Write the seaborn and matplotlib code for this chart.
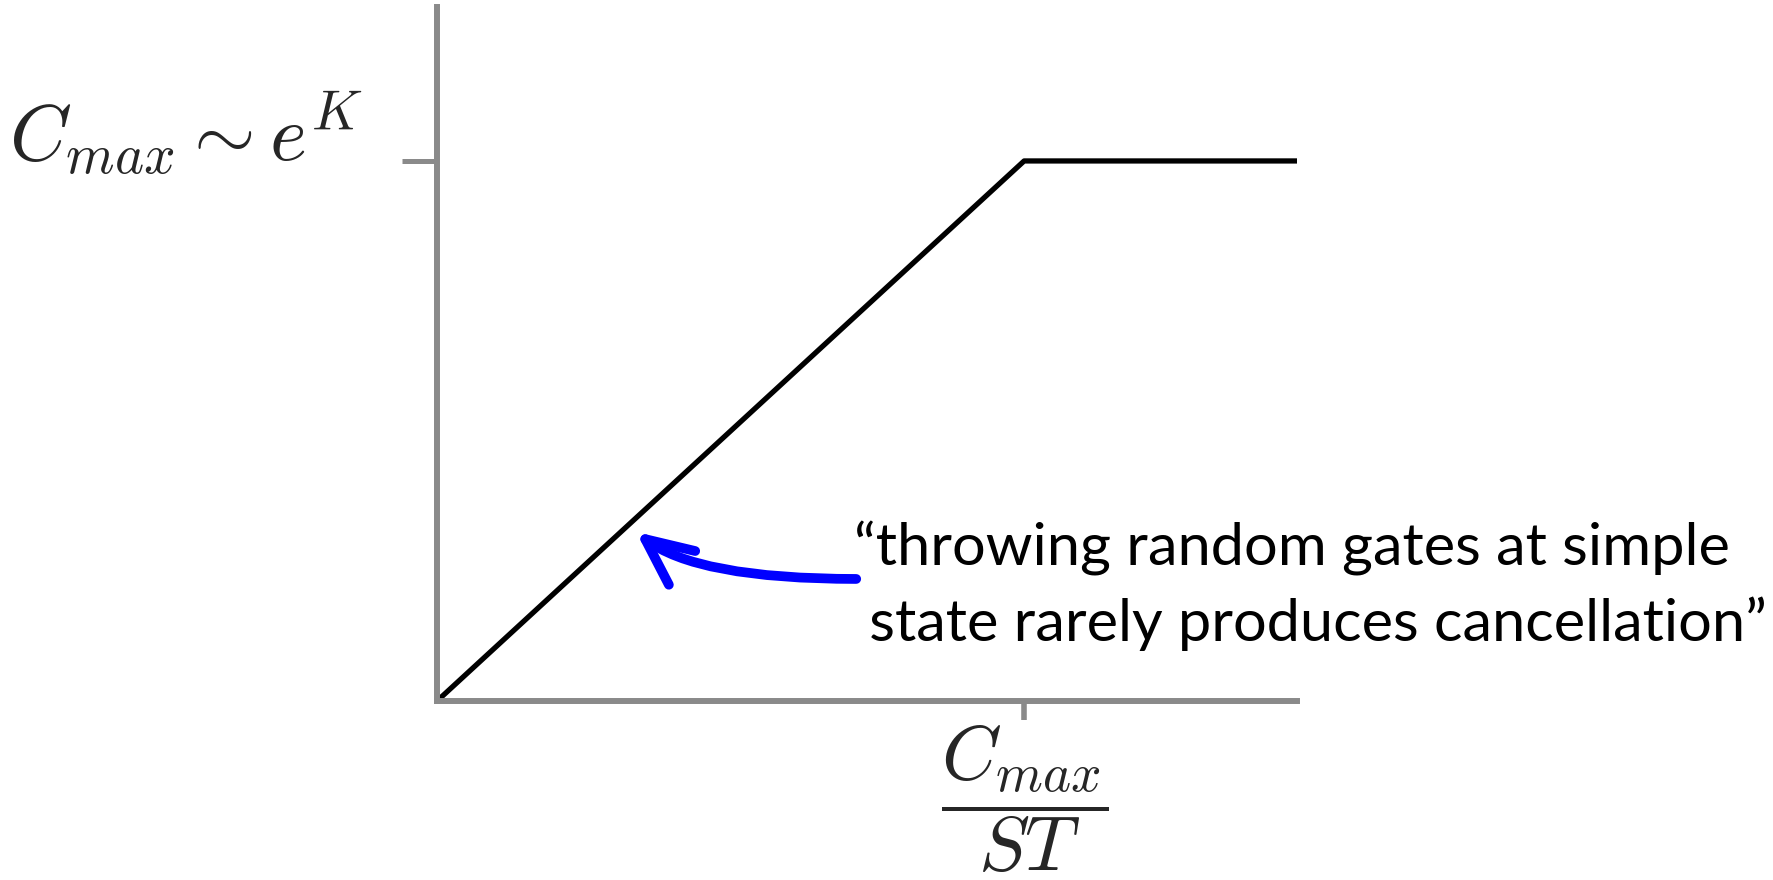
import matplotlib
matplotlib.use("Agg")
import matplotlib.pyplot as plt
import matplotlib.transforms as mtransforms
import seaborn as sns

# Saturation curve: linear growth until the maximum, then flat
x_vals = [0.0, 1.0, 1.465]
y_vals = [0.0, 1.0, 1.0]

x_tick_values = [1.0]
x_tick_labels = [r"$\dfrac{C_{max}}{ST}$"]
y_tick_values = [1.0]
y_tick_labels = [r"$C_{max} \sim e^K$"]

note_lines = ["\u201cthrowing random gates at simple", " state rarely produces cancellation\u201d"]
arrow_head = (0.339, 0.313)
arrow_tail = (0.714, 0.226)

sns.set_theme(style="white")
plt.rcParams["mathtext.fontset"] = "cm"
plt.rcParams["font.family"] = ["Lato", "DejaVu Sans"]

axis_grey = "#8a8a8a"

fig = plt.figure(figsize=(17.73, 8.8), dpi=100)
ax = fig.add_axes([0.2465, 0.2034, 0.4851, 0.7886])

sns.lineplot(x=x_vals, y=y_vals, color="black", linewidth=3.8, ax=ax)

ax.set_xlim(0, x_vals[-1])
ax.set_ylim(0, 1.285)

for side in ("top", "right"):
    ax.spines[side].set_visible(False)
for side in ("left", "bottom"):
    ax.spines[side].set_color(axis_grey)
    ax.spines[side].set_linewidth(4.3)

ax.set_xticks(x_tick_values)
ax.set_xticklabels(x_tick_labels, fontsize=55)
ax.set_yticks(y_tick_values)
ax.set_yticklabels(y_tick_labels, fontsize=57)
for lab in ax.get_yticklabels():
    lab.set_verticalalignment("baseline")
# nudge the fraction label slightly left of its tick
shift_left = mtransforms.ScaledTranslation(-0.1, 0, fig.dpi_scale_trans)
for lab in ax.get_xticklabels():
    lab.set_transform(lab.get_transform() + shift_left)
ax.tick_params(axis="y", direction="out", length=25, width=3.6, color=axis_grey, pad=29, left=True)
ax.tick_params(axis="x", direction="out", length=14, width=4.0, color=axis_grey, pad=2, bottom=True)
ax.set_xlabel("")
ax.set_ylabel("")

ax.annotate(
    "", xy=arrow_head, xytext=arrow_tail, xycoords="data", textcoords="data",
    arrowprops=dict(
        arrowstyle="->,head_length=1.2,head_width=0.55",
        mutation_scale=28,
        connectionstyle="angle3,angleA=0,angleB=-38",
        color="#0000ff", linewidth=7.0, shrinkA=0, shrinkB=0,
        capstyle="round", joinstyle="round",
    ),
    annotation_clip=False,
)

# two-line quotation, each line placed on its own baseline
for line, base_px in zip(note_lines, (565, 641)):
    fig.text(854 / 1773, 1 - base_px / 880, line, fontsize=42.8,
             ha="left", va="baseline", color="black")

fig.savefig("out.png", dpi=100)
